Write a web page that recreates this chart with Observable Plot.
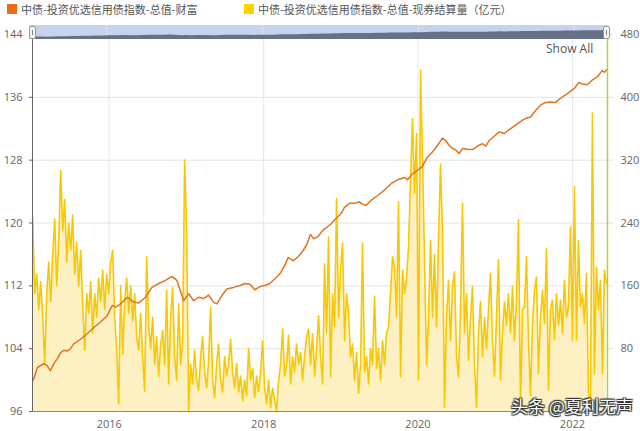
<!DOCTYPE html>
<html>
<head>
<meta charset="utf-8">
<script src="https://cdn.jsdelivr.net/npm/d3@7"></script>
<script src="https://cdn.jsdelivr.net/npm/@observablehq/plot@0.6"></script>
<style>
  html, body { margin: 0; padding: 0; background: #fff; }
  #wrap { position: relative; width: 640px; height: 431px; overflow: hidden; background: #fff; }
  #wrap svg { display: block; }
  .leg { position: absolute; top: 2px; font: 11px "Noto Sans CJK SC", sans-serif; color: #555; white-space: nowrap; line-height: 14px; }
  .sw { position: absolute; width: 10px; height: 10px; top: 4px; }
  #showall { position: absolute; left: 546px; top: 40px; font: 12px "Open Sans", sans-serif; color: #555; }
  #wm { position: absolute; left: 511px; top: 396px; font: 17px/20px "Noto Sans CJK SC", sans-serif; color: #fff; white-space: nowrap;
        text-shadow: 0 0 1px #222, 1px 1px 1px #333, -1px -1px 1px #333, 1px -1px 1px #333, -1px 1px 1px #333; }
  .handle { position: absolute; top: 26px; width: 5px; height: 11px; background: #f4f4f4; border: 1px solid #999; border-radius: 2px; }
  .handle::after { content: ""; position: absolute; left: 2px; top: 3px; width: 1px; height: 5px; background: #888; }
</style>
</head>
<body>
<div id="wrap">
  <div class="sw" style="left:7px;background:#ef6b14"></div>
  <div class="leg" style="left:21px">中债-投资优选信用债指数-总值-财富</div>
  <div class="sw" style="left:244px;background:#ffd200"></div>
  <div class="leg" style="left:258px">中债-投资优选信用债指数-总值-现券结算量（亿元）</div>
  <div id="chart" style="position:absolute;left:0;top:20px"></div>
  <div id="nav" style="position:absolute;left:29px;top:25px;width:580px;height:14px;background:#c6d3ea;overflow:hidden"></div>
  <div class="handle" style="left:29px"></div>
  <div class="handle" style="left:603px"></div>
  <div id="showall">Show All</div>
  <div id="wm">头条 @夏利无声</div>
</div>
<script>
// ---- Data ----
// 财富指数 (left axis)
const orangeDates = [
"2015-01-07","2015-01-26","2015-02-26","2015-03-14","2015-03-29","2015-04-14","2015-04-30","2015-05-16","2015-05-31","2015-06-16",
"2015-07-02","2015-07-17","2015-08-18","2015-09-19","2015-10-20","2015-11-21","2015-12-23","2016-01-15","2016-01-31","2016-02-24",
"2016-03-27","2016-04-21","2016-05-19","2016-06-20","2016-07-21","2016-08-22","2016-09-23","2016-10-24","2016-11-16","2016-12-02",
"2016-12-18","2017-01-11","2017-02-04","2017-02-27","2017-03-23","2017-04-16","2017-05-09","2017-05-25","2017-06-18","2017-07-11",
"2017-08-11","2017-09-11","2017-10-04","2017-10-28","2017-11-20","2017-12-14","2018-01-07","2018-01-30","2018-02-23","2018-03-18",
"2018-04-11","2018-04-27","2018-05-21","2018-06-13","2018-07-07","2018-07-23","2018-08-10","2018-08-26","2018-09-16","2018-10-09",
"2018-10-25","2018-11-16","2018-12-10","2019-01-03","2019-01-18","2019-02-11","2019-03-06","2019-03-30","2019-04-13","2019-05-01",
"2019-05-25","2019-06-25","2019-07-26","2019-08-27","2019-09-27","2019-10-29","2019-11-13","2019-12-07","2020-01-08","2020-01-22",
"2020-02-15","2020-03-10","2020-04-03","2020-04-26","2020-05-11","2020-05-27","2020-06-12","2020-06-28","2020-07-14","2020-07-30",
"2020-08-23","2020-09-15","2020-10-09","2020-11-01","2020-11-17","2020-12-03","2020-12-27","2021-01-20","2021-02-13","2021-03-08",
"2021-04-09","2021-05-10","2021-05-24","2021-06-17","2021-07-10","2021-08-03","2021-08-27","2021-09-20","2021-10-13","2021-10-29",
"2021-11-22","2021-12-15","2022-01-08","2022-02-01","2022-02-16","2022-03-12","2022-04-05","2022-04-28","2022-05-22","2022-06-02",
"2022-06-11"];
const orangeValues = [
100.0,101.6,102.1,101.8,101.2,102.1,102.7,103.5,103.8,103.7,
104.0,104.6,105.2,105.9,106.7,107.4,108.2,109.5,109.3,109.7,
110.55,110.0,109.8,110.55,111.8,112.3,112.7,113.2,112.7,111.4,
110.1,111.0,110.1,110.55,110.4,110.8,109.9,109.7,110.8,111.6,
111.8,112.05,112.3,112.2,111.5,111.9,112.05,112.3,112.9,113.5,
114.6,115.6,115.2,115.7,116.5,117.2,118.55,118.0,118.3,119.1,
119.4,119.9,120.6,121.2,122.0,122.5,122.5,122.7,122.4,122.25,
122.9,123.5,124.2,125.0,125.5,125.8,125.5,126.3,126.9,127.2,
128.4,129.05,129.9,130.8,130.5,129.9,129.5,129.3,128.85,129.5,
129.4,129.35,129.8,130.1,129.8,130.5,131.05,131.6,131.4,131.9,
132.5,133.1,133.3,133.5,134.3,135.0,135.35,135.4,135.35,135.7,
136.2,136.6,137.1,137.9,137.7,137.6,138.2,138.6,139.4,139.2,
139.5];

// 现券结算量（亿元） (right axis), sampled about every 9.5 days from 2015-01-04
const yellowStart = "2015-01-04";
const yellowStepDays = 9.46;
const yellowValues = [
248,150,175,130,165,120,61,150,190,140,200,245,160,215,307,230,270,190,240,205,250,175,215,160,205,135,78,150,125,165,100,150,120,170,140,180,130,175,150,190,205,120,80,10,160,73,140,170,125,160,
115,150,95,78,125,70,26,197,110,80,120,60,95,45,85,103,60,154,35,120,158,70,40,137,60,90,320,227,1,60,35,78,40,27,70,95,50,30,65,133,40,18,60,86,40,25,70,45,60,
92,50,30,61,25,45,14,40,20,80,40,55,18,45,25,50,90,30,10,40,5,30,15,1,40,60,105,45,60,97,35,70,50,86,60,75,40,70,95,105,60,99,45,80,122,70,35,188,
100,222,44,150,108,271,120,180,214,90,150,125,70,86,40,75,23,60,214,50,70,35,80,60,146,55,80,40,90,60,100,108,150,197,184,120,267,44,180,150,170,209,295,373,278,354,40,435,320,193,
60,117,218,120,200,108,218,315,227,5,120,167,90,159,178,70,44,130,265,100,150,65,120,159,60,5,100,140,70,120,80,130,176,90,45,120,193,40,100,140,110,150,100,159,90,140,244,5,130,
133,197,90,20,110,154,171,48,120,154,112,207,27,130,142,91,150,110,142,100,167,120,133,235,90,286,91,218,133,150,112,176,23,10,380,48,184,130,167,48,180,163];

const leftTicks = [96, 104, 112, 120, 128, 136, 144];
const rightTickLabels = [80, 160, 240, 320, 400, 480];
const yearTicks = [2016, 2018, 2020, 2022];
const xDomainDates = ["2015-01-03", "2022-06-16"];

// ---- Build tables ----
const orange = orangeDates.map((d, i) => ({date: new Date(d), value: orangeValues[i]}));
const y0 = new Date(yellowStart).getTime();
const yellow = yellowValues.map((v, i) => ({date: new Date(y0 + i * yellowStepDays * 86400000), value: v}));
const xDomain = xDomainDates.map(d => new Date(d));
const years = yearTicks.map(y => new Date(Date.UTC(y, 0, 1)));
const toLeft = v => 96 + v / 10;           // right axis 0..480 -> left axis 96..144
const rightPos = rightTickLabels.map(toLeft);

const chart = Plot.plot({
  width: 640,
  height: 411,
  marginTop: 14,
  marginBottom: 20,
  marginLeft: 32,
  marginRight: 33,
  x: {type: "utc", domain: xDomain, label: null},
  y: {domain: [96, 144], label: null},
  style: {fontFamily: "'Open Sans', sans-serif", fontSize: "11px", color: "#666", background: "transparent"},
  marks: [
    Plot.gridX(years, {stroke: "#e6e6e6", strokeOpacity: 1}),
    Plot.gridY(leftTicks, {stroke: "#e3e3e3", strokeOpacity: 1}),
    Plot.areaY(yellow, {x: "date", y1: 96, y2: d => toLeft(d.value), fill: "#fdf1c4"}),
    Plot.lineY(yellow, {x: "date", y: d => toLeft(d.value), stroke: "#f8c800", strokeWidth: 1.6}),
    Plot.lineY(orange, {x: "date", y: "value", stroke: "#e2731f", strokeWidth: 1.5}),
    Plot.ruleY([96], {stroke: "#888"}),
    Plot.ruleX([xDomain[0]], {stroke: "#666"}),
    Plot.ruleX([xDomain[1]], {stroke: "#b2d232", strokeWidth: 1.5}),
    Plot.axisY(leftTicks, {anchor: "left", label: null, tickSize: 3, tickPadding: 7, stroke: "#666", fill: "#666"}),
    Plot.axisY(rightPos, {anchor: "right", label: null, tickSize: 5, tickPadding: 8, stroke: "#e0e0e0", fill: "#666",
      tickFormat: d => String(Math.round((d - 96) * 10))}),
    Plot.axisX(years, {anchor: "bottom", label: null, tickSize: 0, tickPadding: 9, tickFormat: d3.utcFormat("%Y"), fill: "#666"})
  ]
});
document.getElementById("chart").appendChild(chart);

// navigator overview
const nav = Plot.plot({
  width: 580,
  height: 14,
  margin: 0,
  x: {type: "utc", domain: xDomain, axis: null},
  y: {domain: [88, 168], axis: null},
  style: {background: "transparent"},
  marks: [
    Plot.gridX(years, {stroke: "#dfe6f2", strokeOpacity: 1}),
    Plot.areaY(orange, {x: "date", y1: 88, y2: "value", fill: "#667086"})
  ]
});
document.getElementById("nav").appendChild(nav);
</script>
</body>
</html>
